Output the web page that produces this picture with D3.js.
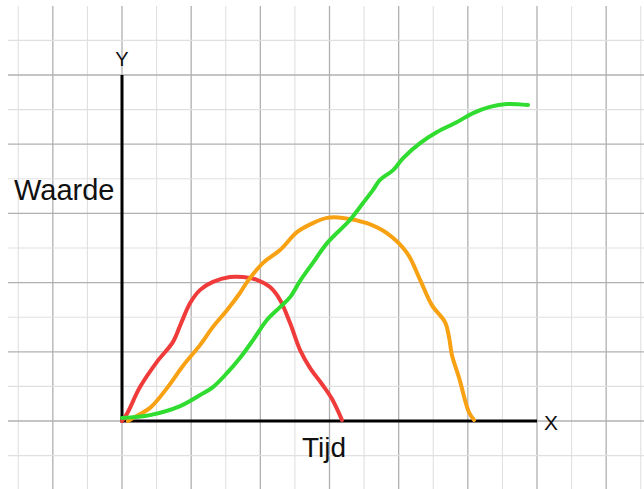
<!DOCTYPE html>
<html>
<head>
<meta charset="utf-8">
<script src="https://cdn.jsdelivr.net/npm/d3@7"></script>
<style>
  html, body { margin: 0; padding: 0; background: #fff; }
  svg { display: block; }
  text { font-family: "Liberation Sans", Arial, sans-serif; fill: #111; }
</style>
</head>
<body>
<svg id="chart" width="644" height="489"></svg>
<script>
// ---- data (grid units: x = Tijd, y = Waarde) ----
const redX   = [0, 0.14, 0.52, 1.01, 1.47, 1.71, 1.97, 2.26, 2.63, 3.12, 3.50, 3.90, 4.28, 4.57, 4.86, 5.15, 5.44, 5.78, 6.07, 6.36];
const redY   = [0, 0.20, 0.98, 1.71, 2.28, 2.83, 3.41, 3.79, 4.02, 4.16, 4.16, 4.08, 3.87, 3.50, 2.83, 2.05, 1.53, 1.07, 0.64, 0.03];
const orangeX = [0.17, 0.32, 0.81, 1.30, 1.76, 2.26, 2.63, 3.04, 3.41, 3.64, 4.08, 4.57, 5.06, 5.52, 5.93, 6.39, 7.08, 7.66, 8.24, 8.62, 8.96, 9.34, 9.46, 9.54, 9.75, 10.03, 10.18];
const orangeY = [0, 0.09, 0.38, 0.95, 1.59, 2.20, 2.72, 3.21, 3.70, 4.05, 4.57, 4.94, 5.46, 5.72, 5.87, 5.87, 5.72, 5.43, 4.86, 4.08, 3.35, 2.86, 2.40, 1.91, 1.24, 0.26, 0.03];
const greenX = [0, 0.81, 1.68, 2.26, 2.63, 3.04, 3.41, 3.79, 4.19, 4.57, 4.86, 5.15, 5.52, 5.93, 6.59, 6.97, 7.26, 7.46, 7.84, 8.13, 8.62, 9.11, 9.69, 10.15, 10.64, 11.13, 11.74];
const greenY = [0.09, 0.17, 0.43, 0.75, 0.98, 1.39, 1.82, 2.34, 2.92, 3.29, 3.58, 4.05, 4.57, 5.14, 5.81, 6.30, 6.68, 6.97, 7.25, 7.60, 8.03, 8.35, 8.64, 8.90, 9.08, 9.16, 9.13];
const seriesNames = ["rood", "oranje", "groen"];
const seriesColors = ["#f03b3b", "#f7a113", "#2fdc2f"];
const xLabel = "Tijd", yLabel = "Waarde", xAxisName = "X", yAxisName = "Y";
const gridXTicks = d3.range(-3, 16);   // grid lines in x units
const gridYTicks = d3.range(-2, 12);   // grid lines in y units

// ---- scales ----
const x = d3.scaleLinear().domain([0, 12]).range([122, 537]);
const y = d3.scaleLinear().domain([0, 10]).range([421, 75]);

const svg = d3.select("#chart");

// grid
const grid = svg.append("g");
grid.selectAll("line.v").data(gridXTicks).join("line")
  .attr("x1", d => x(d)).attr("x2", d => x(d))
  .attr("y1", 6).attr("y2", 489)
  .attr("stroke", d => d % 2 === 0 ? "#b0b0b0" : "#e0e0e0")
  .attr("stroke-width", d => d % 2 === 0 ? 1.3 : 1.1);
grid.selectAll("line.h").data(gridYTicks).join("line")
  .attr("y1", d => y(d)).attr("y2", d => y(d))
  .attr("x1", 8).attr("x2", 644)
  .attr("stroke", d => d % 2 === 0 ? "#b0b0b0" : "#e0e0e0")
  .attr("stroke-width", d => d % 2 === 0 ? 1.3 : 1.1);

// axes
svg.append("line")
  .attr("x1", x(0)).attr("x2", x(0))
  .attr("y1", y(10)).attr("y2", y(0) + 1.5)
  .attr("stroke", "#000").attr("stroke-width", 3);
svg.append("line")
  .attr("x1", x(0) - 1.5).attr("x2", x(12))
  .attr("y1", y(0)).attr("y2", y(0))
  .attr("stroke", "#000").attr("stroke-width", 3);

// curves
const line = d3.line().x(d => x(d[0])).y(d => y(d[1])).curve(d3.curveCatmullRom.alpha(0.5));
const series = [
  d3.zip(redX, redY),
  d3.zip(orangeX, orangeY),
  d3.zip(greenX, greenY)
];
series.forEach((pts, i) => {
  svg.append("path")
    .attr("class", seriesNames[i])
    .attr("d", line(pts))
    .attr("fill", "none")
    .attr("stroke", seriesColors[i])
    .attr("stroke-width", 4)
    .attr("stroke-linecap", "round")
    .attr("stroke-linejoin", "round");
});

// labels
svg.append("text").text(yAxisName)
  .attr("x", x(0)).attr("y", 66).attr("text-anchor", "middle")
  .attr("font-size", 20);
svg.append("text").text(xAxisName)
  .attr("x", 544).attr("y", 430)
  .attr("font-size", 21);
svg.append("text").text(yLabel)
  .attr("x", 14).attr("y", 200)
  .attr("font-size", 29);
svg.append("text").text(xLabel)
  .attr("x", 302).attr("y", 457)
  .attr("font-size", 28);
</script>
</body>
</html>
